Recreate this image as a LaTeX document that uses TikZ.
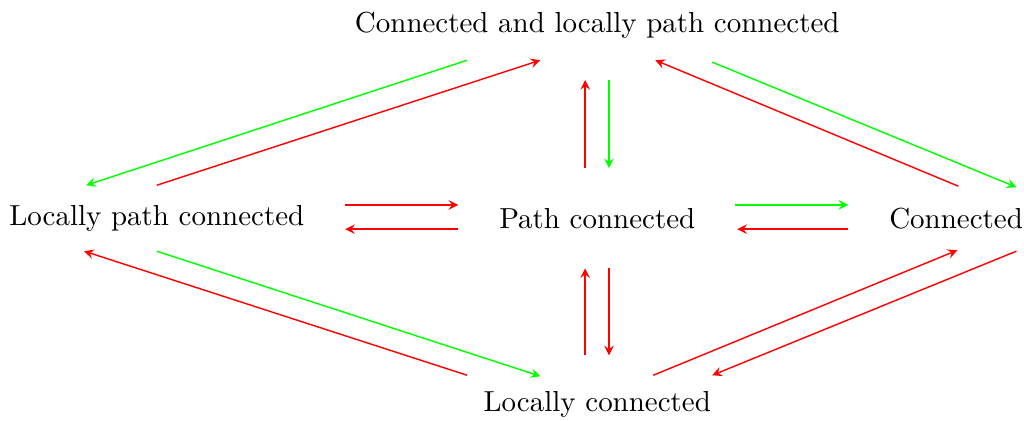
\documentclass[tikz,border=0pt]{standalone}
\usepackage{amsmath}
\usepackage{tikz}

\begin{document}
\begin{tikzpicture}[auto, >=stealth, line width=0.5pt, every node/.style={font=\fontsize{10.2pt}{12pt}\selectfont}]
\useasboundingbox (-7.39,-2.50) rectangle (5.28,2.70);
\node (t) at (0, 2.39) {Connected and locally path connected};
\node (l) at (-5.45, 0) {Locally path connected};
\node (c) at (0, 0) {Path connected};
\node (r) at (4.44, 0) {Connected};
\node (b) at (0, -2.31) {Locally connected};
\path[->] ([shift={(-1.61,-0.435)}]t.center) edge[green] ([shift={(-0.874,0.408)}]l.center)
          ([shift={(0,0.408)}]l.center) edge[red] ([shift={(-0.705,-0.435)}]t.center)
          ([shift={(-0.15,0.62)}]c.center) edge[red] ([shift={(-0.15,-0.68)}]t.center)
          ([shift={(0.145,-0.68)}]t.center) edge[green] ([shift={(0.145,0.62)}]c.center)
          ([shift={(0.028,0.396)}]r.center) edge[red] ([shift={(0.718,-0.435)}]t.center)
          ([shift={(1.423,-0.459)}]t.center) edge[green] ([shift={(0.746,0.384)}]r.center)
          ([shift={(2.331,0.165)}]l.center) edge[red] ([shift={(-1.72,0.165)}]c.center)
          ([shift={(-1.72,-0.136)}]c.center) edge[red] ([shift={(2.331,-0.136)}]l.center)
          ([shift={(1.708,0.165)}]c.center) edge[green] ([shift={(-1.334,0.165)}]r.center)
          ([shift={(-1.334,-0.136)}]r.center) edge[red] ([shift={(1.733,-0.136)}]c.center)
          ([shift={(-0.15,0.614)}]b.center) edge[red] ([shift={(-0.15,-0.62)}]c.center)
          ([shift={(0.145,-0.62)}]c.center) edge[red] ([shift={(0.145,0.614)}]b.center)
          ([shift={(-1.61,0.367)}]b.center) edge[red] ([shift={(-0.899,-0.408)}]l.center)
          ([shift={(0,-0.408)}]l.center) edge[green] ([shift={(-0.705,0.355)}]b.center)
          ([shift={(0.693,0.367)}]b.center) edge[red] ([shift={(0.015,-0.396)}]r.center)
          ([shift={(0.746,-0.408)}]r.center) edge[red] ([shift={(1.423,0.367)}]b.center);
\end{tikzpicture}
\end{document}
